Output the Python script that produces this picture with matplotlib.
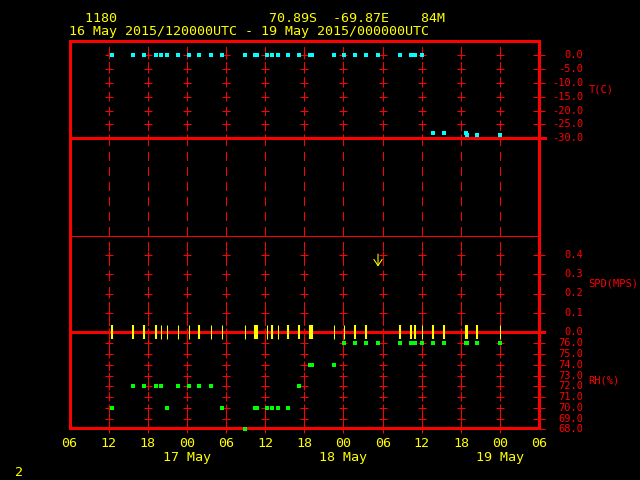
import matplotlib
matplotlib.use('Agg')
import matplotlib.pyplot as plt
import matplotlib.transforms as mtransforms

# station header
station_id = '1180'
station_lat = '70.89S'
station_lon = '-69.87E'
station_elev = '84M'
period = '16 May 2015/120000UTC - 19 May 2015/000000UTC'

# observation times, hours after 16 May 2015 00 UTC
obs_hours = [12.47, 15.73, 17.42, 19.21, 20.03, 20.90, 22.58, 24.32, 25.85, 27.69,
             29.38, 32.90, 34.51, 34.74, 36.27, 37.04, 37.96, 39.49, 41.18, 42.79,
             43.17, 46.54, 48.07, 49.76, 51.45, 53.29, 56.66, 58.35, 58.96, 60.04,
             61.76, 63.45, 66.78, 66.97, 68.51, 71.99]
temp_c = [0.0, 0.0, 0.0, 0.0, 0.0, 0.0, 0.0, 0.0, 0.0, 0.0,
          0.0, 0.0, 0.0, 0.0, 0.0, 0.0, 0.0, 0.0, 0.0, 0.0,
          0.0, 0.0, 0.0, 0.0, 0.0, 0.0, 0.0, 0.0, 0.0, 0.0,
          -28.1, -28.1, -28.1, -28.8, -28.8, -28.8]
wind_spd = [0.0, 0.0, 0.0, 0.0, 0.0, 0.0, 0.0, 0.0, 0.0, 0.0,
            0.0, 0.0, 0.0, 0.0, 0.0, 0.0, 0.0, 0.0, 0.0, 0.0,
            0.0, 0.0, 0.0, 0.0, 0.0, 0.34, 0.0, 0.0, 0.0, 0.0,
            0.0, 0.0, 0.0, 0.0, 0.0, 0.0]
rh_pct = [70, 72, 72, 72, 72, 70, 72, 72, 72, 72,
          70, 68, 70, 70, 70, 70, 70, 70, 72, 74,
          74, 74, 76, 76, 76, 76, 76, 76, 76, 76,
          76, 76, 76, 76, 76, 76]

# axis ticks
time_ticks = [6, 12, 18, 24, 30, 36, 42, 48, 54, 60, 66, 72, 78]
day_ticks = [24, 48, 72]
day_labels = ['17 May', '18 May', '19 May']
temp_ticks = [0.0, -5.0, -10.0, -15.0, -20.0, -25.0, -30.0]
spd_ticks = [0.4, 0.3, 0.2, 0.1, 0.0]
rh_ticks = [76.0, 75.0, 74.0, 73.0, 72.0, 71.0, 70.0, 69.0, 68.0]

RED = '#ff0000'
YEL = '#ffff00'
MONO = 'DejaVu Sans Mono'

# thin (1px) wind bars, the rest are drawn 2px wide
thin_bars = [4, 5, 6, 7, 9, 10, 11, 14, 16, 21, 22, 29, 35]

W, H = 640, 480
fig = plt.figure(figsize=(6.4, 4.8), dpi=100, facecolor='black')

X0, X1 = 69.5, 539.2


def px_axes(top, bottom):
    ax = fig.add_axes([X0 / W, 1 - bottom / H, (X1 - X0) / W, (bottom - top) / H])
    ax.set_facecolor('none')
    ax.set_xlim(6, 78)
    for s in ax.spines.values():
        s.set_visible(False)
    ax.set_xticks([])
    ax.set_yticks([])
    return ax


# outer frame and grid
frame = px_axes(41, 428)
frame.set_ylim(0, 1)
for s in frame.spines.values():
    s.set_visible(True)
    s.set_color(RED)
    s.set_linewidth(1.9)
    s.set_antialiased(False)
for t in time_ticks[1:-1]:
    frame.plot([t, t], [1, 0], color=RED, lw=0.75, linestyle=(8.6, (7.2, 7.2)),
               antialiased=False)

xtr = mtransforms.blended_transform_factory(frame.transData, frame.transAxes)
for t in time_ticks:
    frame.text(t, -0.041, '%02d' % (t % 24), color=YEL, fontsize=9.6, family=MONO,
               ha='center', va='center', transform=xtr)
for t, lab in zip(day_ticks, day_labels):
    frame.text(t, -0.075, lab, color=YEL, fontsize=9.6, family=MONO,
               ha='center', va='center', transform=xtr)

ax_t = px_axes(55, 138.3)
ax_t.set_ylim(-30, 0)
ax_s = px_axes(235.75, 332)
ax_s.set_ylim(0, 0.5)
ax_r = px_axes(343.3, 429.3)
ax_r.set_ylim(68, 76)

lab_x = (583 - X0) / (X1 - X0)
name_x = (588.5 - X0) / (X1 - X0)
for ax, ticks, name, name_y in [(ax_t, temp_ticks, 'T(C)', 0.58),
                                (ax_s, spd_ticks, 'SPD(MPS)', 0.506),
                                (ax_r, rh_ticks, 'RH(%)', 0.565)]:
    tr = mtransforms.blended_transform_factory(ax.transAxes, ax.transData)
    for v in ticks:
        for t in time_ticks[1:-1]:
            ax.plot(t, v, marker='+', ms=5.5, mew=0.75, color=RED, clip_on=False,
                    antialiased=False)
        ax.plot(78, v, marker='_', ms=8, mew=0.75, color=RED, clip_on=False,
                antialiased=False)
        ax.text(lab_x, v, '%.1f' % v, color=RED, fontsize=7.5, family=MONO,
                ha='right', va='center', transform=tr)
    ax.text(name_x, name_y, name, color=RED, fontsize=7.5, family=MONO,
            ha='left', va='center', transform=ax.transAxes)

ax_t.axhline(-30, xmax=1.012, color=RED, lw=0.75, clip_on=False, antialiased=False)
ax_s.axhline(0.5, color=RED, lw=0.7, clip_on=False, antialiased=False)
ax_s.axhline(0.0, xmax=1.01, color=RED, lw=0.75, clip_on=False, antialiased=False)

# temperature
ax_t.plot(obs_hours, temp_c, 's', color='#00ffff', ms=3.3, mew=0, clip_on=False,
          zorder=5, antialiased=False)

# wind: calm winds as bars, others as arrows
for i, (h, v) in enumerate(zip(obs_hours, wind_spd)):
    if v == 0:
        ax_s.plot(h, v, marker='|', ms=9.4, mew=0.75 if i in thin_bars else 1.5,
                  color=YEL, clip_on=False, zorder=5, antialiased=False)
    else:
        ax_s.annotate('', xy=(h, v), xytext=(0, 9), textcoords='offset points',
                      arrowprops=dict(arrowstyle='->,head_length=0.45,head_width=0.3',
                                      color=YEL, lw=0.75, shrinkA=0, shrinkB=0,
                                      mutation_scale=10))

# relative humidity
ax_r.plot(obs_hours, rh_pct, 's', color='#00ff00', ms=3.3, mew=0, clip_on=False,
          zorder=5, antialiased=False)

# header
line1 = '  ' + station_id + ' ' * 19 + station_lat + '  ' + station_lon + '    ' + station_elev
fig.text(69 / W, 1 - 18 / H, line1, color=YEL, fontsize=9.6, family=MONO, va='center')
fig.text(69 / W, 1 - 32 / H, period, color=YEL, fontsize=9.6, family=MONO, va='center')
fig.text(19 / W, 1 - 473 / H, '2', color=YEL, fontsize=9.6, family=MONO,
         ha='center', va='center')

fig.savefig('out.png', dpi=100, facecolor='black')
